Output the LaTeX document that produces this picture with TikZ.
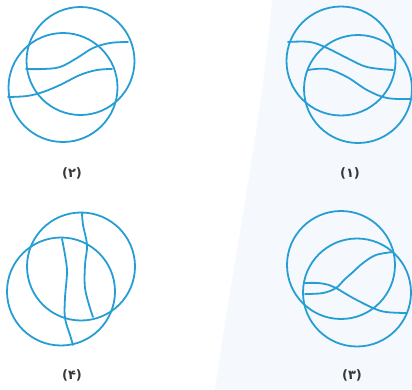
\documentclass[tikz,border=0pt]{standalone}
\usepackage{fontspec}
\newfontfamily\arabicfont[Script=Arabic]{DejaVu Sans}
\definecolor{circ}{RGB}{38,158,212}
\definecolor{tint}{RGB}{245,249,253}
\definecolor{labelc}{RGB}{55,55,55}
\tikzset{
  ring/.style={draw=circ, line width=1.8pt},
  chord/.style={draw=circ, line width=1.8pt, line cap=round},
  lab/.style={text=labelc, font=\arabicfont\bfseries\fontsize{13}{15}\selectfont, inner sep=0pt}
}
\begin{document}
\begin{tikzpicture}[x=1pt,y=-1pt]
\useasboundingbox (0,0) rectangle (412,389);
% faint page tint
\fill[tint] (272,0) .. controls (262,120) and (235,250) .. (215,389) -- (412,389) -- (412,0) -- cycle;
% ---- panel (2) top-left
\draw[ring] (80.5,61) circle[radius=54pt];
\draw[ring] (63,87.5) circle[radius=54.5pt];
\draw[chord] plot[smooth, tension=0.6] coordinates {(26,69) (43,69) (60,67) (77,58) (93,48) (110,43) (128,42)};
\draw[chord] plot[smooth, tension=0.6] coordinates {(8,97) (27,96) (43,92) (60,85) (80,75) (97,70) (112,69)};
\node[lab] (l2) at (72,173) {(۲)};
% ---- panel (1) top-right
\draw[ring] (341,61) circle[radius=54.5pt];
\draw[ring] (358,89) circle[radius=54pt];
\draw[chord] plot[smooth, tension=0.6] coordinates {(288,42) (310,42) (327,48) (347,58) (367,67) (393,70)};
\draw[chord] plot[smooth, tension=0.6] coordinates {(308,70) (327,69) (347,77) (367,90) (387,98) (411,99)};
\node[lab] (l1) at (350,173) {(۱)};
% ---- panel (4) bottom-left
\draw[ring] (81,266.5) circle[radius=54pt];
\draw[ring] (61,291.5) circle[radius=54pt];
\draw[chord] plot[smooth, tension=0.6] coordinates {(82,213) (83,225) (87,245) (85,265) (85,288) (90,308) (93,317)};
\draw[chord] plot[smooth, tension=0.6] coordinates {(62,239) (65,255) (67,272) (65,298) (65,318) (70,335) (73,345)};
\node[lab] (l4) at (72,375) {(۴)};
% ---- panel (3) bottom-right
\draw[ring] (341,265) circle[radius=54pt];
\draw[ring] (357,292.5) circle[radius=54pt];
\draw[chord] plot[smooth, tension=0.6] coordinates {(305,283) (318,283) (329,285) (336,288) (353,298) (373,308) (386,312) (406,313)};
\draw[chord] plot[smooth, tension=0.6] coordinates {(305,294) (323,293) (336,288) (344,280) (353,272) (363,263) (376,255) (393,252)};
\node[lab] (l3) at (352,375) {(۳)};
\end{tikzpicture}
\end{document}
